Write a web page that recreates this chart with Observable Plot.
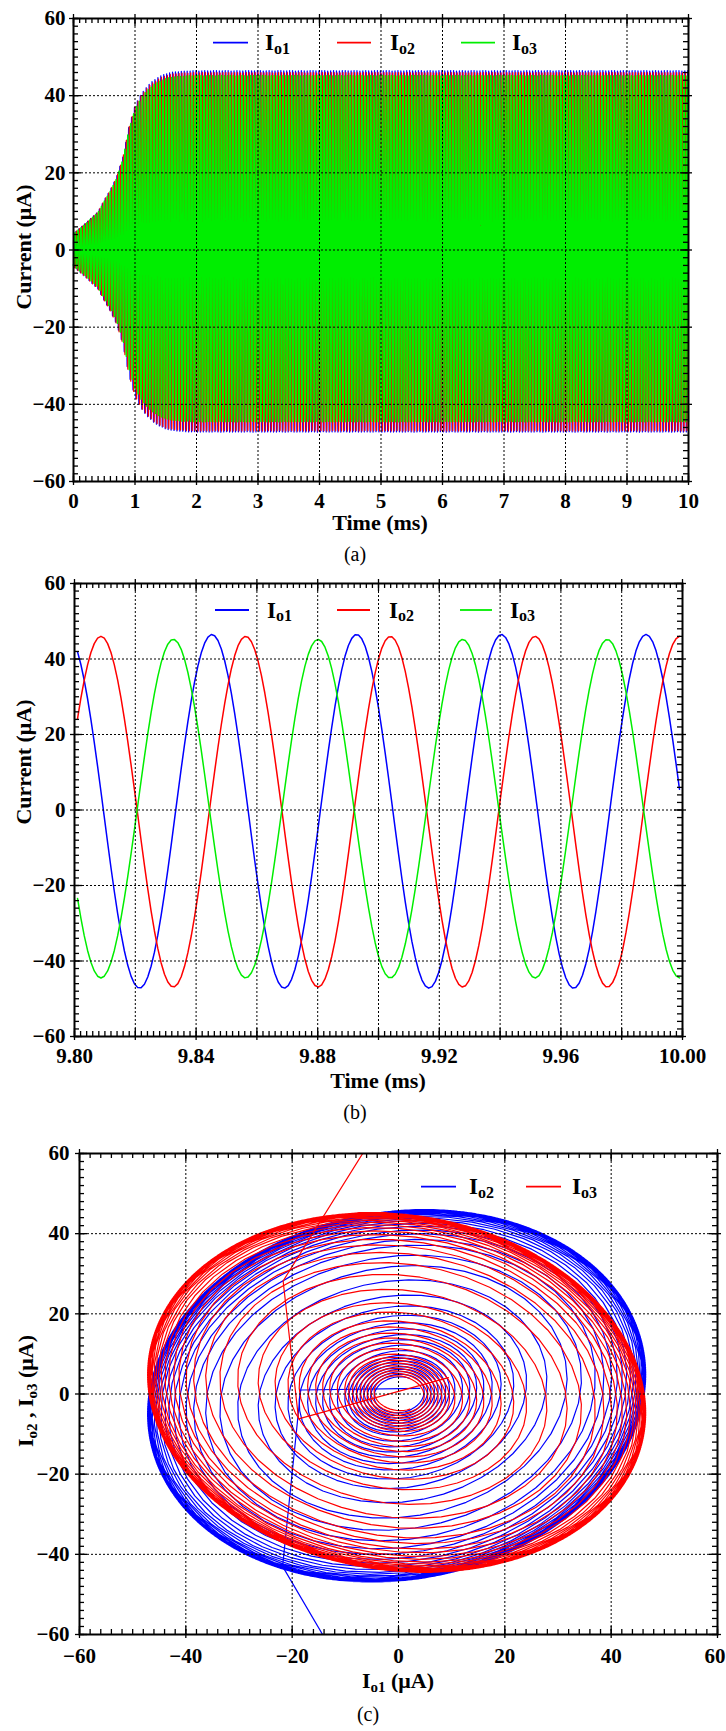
<!DOCTYPE html>
<html><head><meta charset="utf-8">
<script src="https://cdn.jsdelivr.net/npm/d3@7"></script>
<script src="https://cdn.jsdelivr.net/npm/@observablehq/plot@0.6"></script>
<style>
body{margin:0;background:#fff;}
#page{position:relative;width:726px;height:1731px;overflow:hidden;background:#fff;}
.fig{position:absolute;left:0;}
#overlay{position:absolute;left:0;top:0;pointer-events:none;}
</style></head><body><div id="page"></div>
<script>
// ---------------- values ----------------
const seriesNames = ["Io1", "Io2", "Io3"];
const seriesColors = ["#0000ff", "#ff0000", "#00ee00"];
const periodMs = 0.0476;                       // oscillation period read in (b)
const sampleMs = 0.0011;                       // sampling step of the simulated signals
const crestTimes = [9.8452, 9.8563, 9.8325];   // one crest of each current in (b), ms
const crestValues = [46.5, 46.0, 45.2];        // positive peaks, µA
const troughValues = [-47.2, -46.9, -44.5];    // negative peaks, µA
// start-up envelope of Io1 read in (a)
const envelopeTimes = [0, 0.2, 0.4, 0.5, 0.6, 0.7, 0.8, 0.9, 1.0, 1.1, 1.2, 1.3, 1.4, 1.5, 1.6, 1.8, 2.0, 10];
const envelopeIo1 =   [4.3, 7, 10, 13, 15.7, 19, 24, 32, 37.5, 40.5, 42.5, 44, 45, 45.7, 46.1, 46.4, 46.5, 46.5];
// start-up transients seen in (c)
const transientIo2X = [4, -18.4, -21.8, -13.4];
const transientIo2Y = [1.4, 1.0, -43, -62];
const transientIo3X = [9.4, -18.8, -21.7, -5.8];
const transientIo3Y = [4.1, -6.2, 28.2, 62];
// axes
const timeTicksA = [0, 1, 2, 3, 4, 5, 6, 7, 8, 9, 10];
const currentTicks = [-60, -40, -20, 0, 20, 40, 60];
const timeGridB = [9.80, 9.82, 9.84, 9.86, 9.88, 9.90, 9.92, 9.94, 9.96, 9.98, 10.00];
const timeLabelsB = [9.80, 9.84, 9.88, 9.92, 9.96, 10.00];
const ioTicks = [-60, -40, -20, 0, 20, 40, 60];

// ---------------- signal model built from the read values ----------------
const envScale = d3.scaleLinear().domain(envelopeTimes).range(envelopeIo1).clamp(true);
const fullAmp = envelopeIo1[envelopeIo1.length - 1];
function current(k, t) {
  const e = envScale(t) / fullAmp;
  const c = Math.cos(2 * Math.PI * (t - crestTimes[k]) / periodMs);
  return e * (c >= 0 ? crestValues[k] * c : -troughValues[k] * c);
}
function sampleTimes(t0, t1) {
  const n0 = Math.ceil(t0 / sampleMs - 1e-9), n1 = Math.floor(t1 / sampleMs + 1e-9);
  return d3.range(n0, n1 + 1).map(n => n * sampleMs);
}
const timesA = sampleTimes(0, 10);
const rowsA = timesA.map(t => ({t, v: [0, 1, 2].map(k => current(k, t))}));
const timesB = sampleTimes(9.8, 10.0);
const rowsB = timesB.map(t => ({t, v: [0, 1, 2].map(k => current(k, t))}));
const transientIo2 = transientIo2X.map((x, i) => ({x, y: transientIo2Y[i]}));
const transientIo3 = transientIo3X.map((x, i) => ({x, y: transientIo3Y[i]}));

// ---------------- helpers ----------------
const FONT = "'Liberation Serif', 'Times New Roman', serif";
const page = document.getElementById("page");

function frameTicks(xMajor, xMinor, yMajor, yMinor, innerW, innerH) {
  const s = {stroke: "black", strokeWidth: 1.3};
  return [
    Plot.tickX(xMajor, {x: d => d, insetTop: innerH - 8, insetBottom: -4, ...s}),
    Plot.tickX(xMajor, {x: d => d, insetBottom: innerH - 8, insetTop: -4, ...s}),
    Plot.tickX(xMinor, {x: d => d, insetTop: innerH - 5, ...s}),
    Plot.tickX(xMinor, {x: d => d, insetBottom: innerH - 5, ...s}),
    Plot.tickY(yMajor, {y: d => d, insetRight: innerW - 8, insetLeft: -4, ...s}),
    Plot.tickY(yMajor, {y: d => d, insetLeft: innerW - 8, insetRight: -4, ...s}),
    Plot.tickY(yMinor, {y: d => d, insetRight: innerW - 5, ...s}),
    Plot.tickY(yMinor, {y: d => d, insetLeft: innerW - 5, ...s})
  ];
}
function inner(v, domain) { return v.filter(d => d > domain[0] + 1e-9 && d < domain[1] - 1e-9); }
const gridStyle = {stroke: "black", strokeOpacity: 1, strokeWidth: 1, strokeDasharray: "2,2"};
const plotStyle = {fontFamily: FONT, fontWeight: "bold", fontSize: "21px", background: "transparent", color: "black", overflow: "visible"};

function place(svg, top) {
  const d = document.createElement("div");
  d.className = "fig"; d.style.top = top + "px";
  d.appendChild(svg); page.appendChild(d);
}

// ---------------- panel (a) ----------------
{
  const W = 726, H = 530, mt = 18, mb = 49, ml = 73, mr = 38;
  const xd = [0, 10], yd = [-60, 60];
  const widths = [1.2, 1.2, 1.6];
  const chart = Plot.plot({
    width: W, height: H, marginTop: mt, marginBottom: mb, marginLeft: ml, marginRight: mr,
    style: plotStyle,
    x: {domain: xd}, y: {domain: yd},
    marks: [
      ...[0, 1, 2].map(k => Plot.line(rowsA, {x: "t", y: d => d.v[k], stroke: seriesColors[k], strokeWidth: widths[k]})),
      Plot.gridX(inner(timeTicksA, xd), gridStyle),
      Plot.gridY(inner(currentTicks, yd), gridStyle),
      ...frameTicks(timeTicksA, d3.range(0, 10.001, 0.1), currentTicks, d3.range(-60, 60.001, 2), W - ml - mr, H - mt - mb),
      Plot.frame({stroke: "black", strokeWidth: 2}),
      Plot.axisX(timeTicksA, {anchor: "bottom", tickSize: 0, tickPadding: 12, label: null}),
      Plot.axisY(currentTicks, {anchor: "left", tickSize: 0, tickPadding: 8, label: null})
    ]
  });
  place(chart, 0);
}

// ---------------- panel (b) ----------------
{
  const W = 726, H = 532, mt = 19, mb = 60, ml = 74, mr = 44;
  const xd = [9.8, 10.0], yd = [-60, 60];
  const chart = Plot.plot({
    width: W, height: H, marginTop: mt, marginBottom: mb, marginLeft: ml, marginRight: mr,
    style: plotStyle,
    x: {domain: xd}, y: {domain: yd},
    marks: [
      ...[0, 1, 2].map(k => Plot.line(rowsB, {x: "t", y: d => d.v[k], stroke: seriesColors[k], strokeWidth: 1.5})),
      Plot.gridX(inner(timeGridB, xd), gridStyle),
      Plot.gridY(inner(currentTicks, yd), gridStyle),
      ...frameTicks(timeGridB, d3.range(0, 101).map(i => 9.8 + i * 0.002), currentTicks, d3.range(-60, 60.001, 2), W - ml - mr, H - mt - mb),
      Plot.frame({stroke: "black", strokeWidth: 2}),
      Plot.axisX(timeLabelsB, {anchor: "bottom", tickSize: 0, tickPadding: 12, label: null, tickFormat: d3.format(".2f")}),
      Plot.axisY(currentTicks, {anchor: "left", tickSize: 0, tickPadding: 9, label: null})
    ]
  });
  place(chart, 564);
}

// ---------------- panel (c) ----------------
{
  const W = 726, H = 560, mt = 19, mb = 60, ml = 79, mr = 9;
  const xd = [-60, 60], yd = [-60, 60];
  const chart = Plot.plot({
    width: W, height: H, marginTop: mt, marginBottom: mb, marginLeft: ml, marginRight: mr,
    style: plotStyle,
    x: {domain: xd}, y: {domain: yd},
    marks: [
      Plot.line(rowsA, {x: d => d.v[0], y: d => d.v[1], stroke: seriesColors[0], strokeWidth: 1.2, clip: true}),
      Plot.line(transientIo2, {x: "x", y: "y", stroke: seriesColors[0], strokeWidth: 1.2, clip: true}),
      Plot.line(rowsA, {x: d => d.v[0], y: d => d.v[2], stroke: seriesColors[1], strokeWidth: 1.2, clip: true}),
      Plot.line(transientIo3, {x: "x", y: "y", stroke: seriesColors[1], strokeWidth: 1.2, clip: true}),
      Plot.gridX(inner(ioTicks, xd), gridStyle),
      Plot.gridY(inner(ioTicks, yd), gridStyle),
      ...frameTicks(ioTicks, d3.range(-60, 60.001, 2), ioTicks, d3.range(-60, 60.001, 2), W - ml - mr, H - mt - mb),
      Plot.frame({stroke: "black", strokeWidth: 2}),
      Plot.axisX(ioTicks.slice(0, -1), {anchor: "bottom", tickSize: 0, tickPadding: 14, label: null}),
      Plot.axisX(ioTicks.slice(-1), {anchor: "bottom", tickSize: 0, tickPadding: 14, label: null, textAnchor: "end", dx: 8}),
      Plot.axisY(ioTicks, {anchor: "left", tickSize: 0, tickPadding: 10, label: null})
    ]
  });
  place(chart, 1134);
}

// ---------------- overlay: titles, legends, captions ----------------
const ov = d3.select(page).append("svg").attr("id", "overlay").attr("width", 726).attr("height", 1731)
  .attr("font-family", FONT);

// parts: [text, isSubscript]
function richText(g, x, y, parts, opts) {
  const size = opts.size, sub = opts.sub || Math.round(size * 0.65), shift = opts.shift || size * 0.18;
  const t = g.append("text").attr("x", x).attr("y", y).attr("font-size", size)
    .attr("font-weight", opts.weight || "bold").attr("text-anchor", opts.anchor || "start").attr("fill", "black");
  if (opts.rotate) t.attr("x", null).attr("y", null).attr("transform", `translate(${x},${y}) rotate(${opts.rotate})`);
  let down = false;
  for (const [s, isSub] of parts) {
    const ts = t.append("tspan").text(s);
    if (isSub) { ts.attr("font-size", sub); if (!down) ts.attr("dy", shift); down = true; }
    else { if (down) ts.attr("dy", -shift); down = false; }
  }
  return t;
}
function legend(lineY, items) {
  for (const it of items) {
    ov.append("line").attr("x1", it.x1).attr("x2", it.x2).attr("y1", lineY).attr("y2", lineY)
      .attr("stroke", it.color).attr("stroke-width", 1.8);
    richText(ov, it.lx, lineY + 7.6, [["I", false], [it.sub, true]], {size: 23, sub: 16, shift: 3.5});
  }
}

// (a)
legend(42.7, [
  {x1: 213, x2: 248, lx: 265, color: seriesColors[0], sub: "o1"},
  {x1: 337, x2: 371, lx: 390, color: seriesColors[1], sub: "o2"},
  {x1: 461, x2: 495, lx: 512, color: seriesColors[2], sub: "o3"}
]);
richText(ov, 380, 530, [["Time (ms)", false]], {size: 22, anchor: "middle"});
richText(ov, 31, 247, [["Current (μA)", false]], {size: 22, anchor: "middle", rotate: -90});
richText(ov, 355, 561, [["(a)", false]], {size: 20, anchor: "middle", weight: "normal"});

// (b)
legend(610, [
  {x1: 215, x2: 249, lx: 267, color: seriesColors[0], sub: "o1"},
  {x1: 337, x2: 370, lx: 389, color: seriesColors[1], sub: "o2"},
  {x1: 460, x2: 492, lx: 510, color: seriesColors[2], sub: "o3"}
]);
richText(ov, 378, 1088, [["Time (ms)", false]], {size: 22, anchor: "middle"});
richText(ov, 31, 762, [["Current (μA)", false]], {size: 22, anchor: "middle", rotate: -90});
richText(ov, 355, 1118.7, [["(b)", false]], {size: 20, anchor: "middle", weight: "normal"});

// (c)
legend(1186.7, [
  {x1: 421, x2: 456, lx: 469, color: seriesColors[0], sub: "o2"},
  {x1: 526, x2: 561, lx: 572, color: seriesColors[1], sub: "o3"}
]);
richText(ov, 398, 1688, [["I", false], ["o1", true], [" (μA)", false]], {size: 22, sub: 15, shift: 4, anchor: "middle"});
richText(ov, 33, 1391, [["I", false], ["o2", true], [" , I", false], ["o3", true], [" (μA)", false]], {size: 22, sub: 15, shift: 4, anchor: "middle", rotate: -90});
richText(ov, 368, 1721, [["(c)", false]], {size: 20, anchor: "middle", weight: "normal"});
</script>
</body></html>
